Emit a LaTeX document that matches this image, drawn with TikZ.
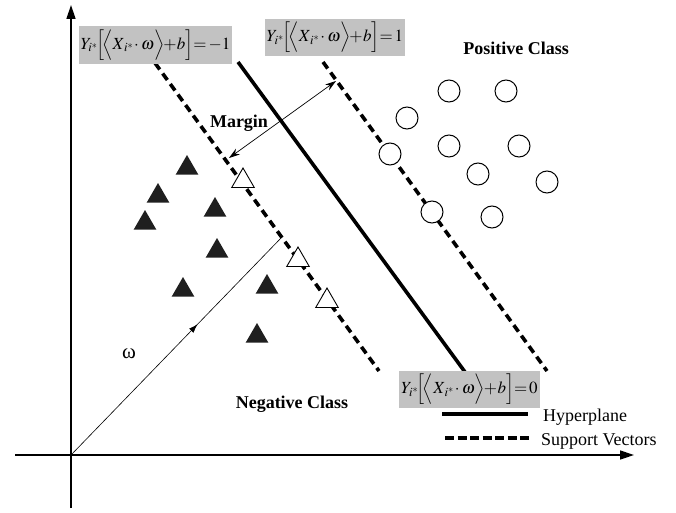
\documentclass[tikz,border=0pt]{standalone}
\usepackage{mathptmx}
\usepackage{fontspec}
\setmainfont{Liberation Serif}
\definecolor{boxgray}{gray}{0.76}
\usetikzlibrary{arrows.meta,shapes,positioning,decorations.markings}
\tikzset{
	axis/.style={
		line width=1.4pt,
		-{Triangle[length=14pt,width=9pt]}
	},
	hyper/.style={
		line width=3.6pt
	},
	support/.style={
		line width=3.6pt,
		dash pattern=on 8pt off 5pt
	},
	eqbox/.style={
		rectangle,
		fill=boxgray,
		inner xsep=2pt,
		minimum height=34pt,
		font=\fontsize{17}{20}\selectfont
	},
	neg/.style={
		regular polygon,
		regular polygon sides=3,
		fill=black!88,
		minimum size=26pt,
		inner sep=0pt
	},
	negsv/.style={
		neg,
		fill=white,
		draw=black,
		line width=0.9pt
	},
	posdot/.style={
		circle,
		draw=black,
		line width=1pt,
		fill=white,
		minimum size=22pt,
		inner sep=0pt
	},
	classlabel/.style={
		font=\fontsize{18}{21}\selectfont\bfseries
	},
	legendlabel/.style={
		anchor=west,
		inner sep=0pt,
		font=\fontsize{18}{21}\selectfont
	},
}
\newcommand{\svmeq}[1]{$Y_{i^*}\!\Big[\!\Big\langle X_{\,i^*}\!\cdot\omega\Big\rangle\!\!+\!b\Big]\!\!=\!#1$}

\begin{document}
\begin{tikzpicture}[x=1pt,y=-1pt]
	\useasboundingbox (0,0) rectangle (676,513);
	% axes
	\coordinate (o)  at (71,455);
	\coordinate (xl) at (15,455);
	\coordinate (xr) at (634,455);
	\coordinate (yb) at (71,508);
	\coordinate (yt) at (71,5);
	\draw[axis] (xl) -- (xr);
	\draw[axis] (yb) -- (yt);
	% hyperplane and support vectors
	\coordinate (h1) at (238,62);  \coordinate (h2) at (465,372);
	\coordinate (n1) at (155,63);  \coordinate (n2) at (379,371);
	\coordinate (p1) at (323,62);  \coordinate (p2) at (547,371);
	\draw[hyper] (h1) -- (h2);
	\draw[support] (n1) -- (n2);
	\draw[support] (p1) -- (p2);
	% equations
	\node[eqbox] (eqneg) at (155.5,45) {\svmeq{-1}};
	\node[eqbox] (eqpos) at (335,37.5) {\svmeq{1}};
	\node[eqbox] (eqzero) at (469.5,389.5) {\svmeq{0}};
	% margin
	\coordinate (m1) at (336,81);
	\coordinate (m2) at (229,158);
	\draw[line width=0.7pt,{Stealth[length=11pt,width=7pt]}-{Stealth[length=11pt,width=7pt]}] (m2) -- (m1);
	\node[classlabel] (margin) at (239,123) {Margin};
	% negative class
	\foreach \name/\x/\y in {a/187/168, b/158/196, c/145/223, d/215/210, e/217/251,
		f/183/290, g/267/287, h/257/336}
		\node[neg] (\name) at (\x,\y) {};
	\foreach \name/\x/\y in {sa/243/181, sb/298/260, sc/327/301}
		\node[negsv] (\name) at (\x,\y) {};
	% positive class
	\foreach \name/\x/\y in {pa/449/91, pb/506/91, pc/407/118, pd/449/146, pe/519/146,
		pf/390/154, pg/478/174, ph/547/182, pi/432/212, pj/492/217}
		\node[posdot] (\name) at (\x,\y) {};
	\node[classlabel] (posclass) at (516,48) {Positive Class};
	\node[classlabel] (negclass) at (292,404) {Negative Class};
	% weight vector
	\coordinate (wend) at (282,237);
	\draw[line width=0.6pt,decoration={markings,
		mark=at position 0.6 with {\arrow{Latex[length=9pt,width=6pt]}}},
		postaction={decorate}] (o) -- (wend);
	\node[font=\fontsize{21}{24}\selectfont] (w) at (129,354) {ω};
	% legend
	\coordinate (lh1) at (442,414); \coordinate (lh2) at (528,414);
	\coordinate (ls1) at (445,438); \coordinate (ls2) at (531,438);
	\draw[hyper] (lh1) -- (lh2);
	\draw[support,dash pattern=on 9pt off 3.5pt] (ls1) -- (ls2);
	\node[legendlabel] (lhtext) at (543,417) {Hyperplane};
	\node[legendlabel] (lstext) at (541,441) {Support Vectors};
\end{tikzpicture}
\end{document}
